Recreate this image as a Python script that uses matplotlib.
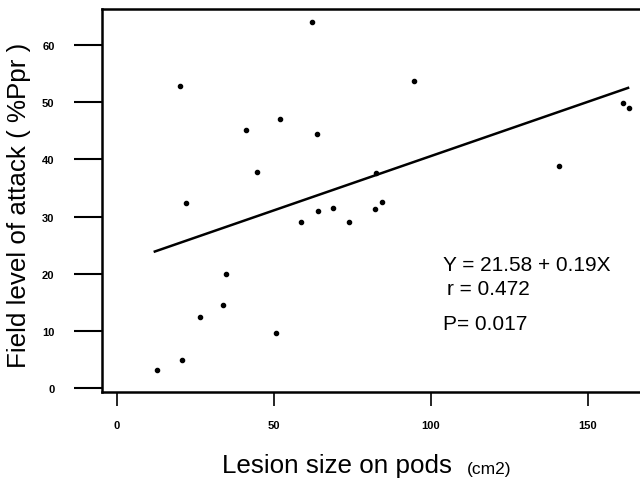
import matplotlib
matplotlib.use("Agg")
import matplotlib.pyplot as plt
import numpy as np

plt.rcParams['font.family'] = ['Liberation Sans', 'DejaVu Sans']

lesion = [12.9, 20.1, 41.1, 44.5, 22.0, 34.9, 33.9, 26.6, 20.9, 62.2, 94.7, 52.1,
          63.8, 82.5, 84.3, 82.2, 68.9, 64.1, 58.7, 73.8, 50.6, 140.9, 161.3, 163.1]
attack = [3.2, 52.8, 45.1, 37.8, 32.3, 19.9, 14.5, 12.4, 4.9, 64.0, 53.7, 47.0,
          44.4, 37.7, 32.6, 31.3, 31.5, 30.9, 29.1, 29.1, 9.7, 38.8, 49.9, 49.0]
intercept = 21.58
slope = 0.19
line_x = [12.1, 162.8]
xticks = [0, 50, 100, 150]
yticks = [0, 10, 20, 30, 40, 50, 60]

fig = plt.figure(figsize=(6.4, 4.81), dpi=100)
ax = fig.add_axes([0.159, 0.183, 0.841, 0.796])
ax.scatter(lesion, attack, s=9, color='black', zorder=3)
lx = np.array(line_x)
ax.plot(lx, intercept + slope * lx, color='black', lw=1.8)

ax.set_xlim(-4.8, 166.6)
ax.set_ylim(-0.7, 66.3)
ax.set_xticks(xticks)
ax.set_yticks(yticks)
ax.tick_params(axis='y', direction='out', length=20, width=1.5, pad=14, labelsize=8)
ax.tick_params(axis='x', direction='out', length=10, width=1.2, pad=10, labelsize=8)
for lab in ax.get_xticklabels() + ax.get_yticklabels():
    lab.set_fontweight('bold')
for s in ['left', 'bottom', 'top']:
    ax.spines[s].set_linewidth(1.8)
ax.spines['right'].set_visible(False)

ax.text(103.8, 20.6, 'Y = 21.58 + 0.19X', fontsize=15, va='baseline')
ax.text(105.1, 16.4, 'r = 0.472', fontsize=15, va='baseline')
ax.text(103.8, 10.3, 'P= 0.017', fontsize=15, va='baseline')

fig.text(0.03, 0.572, 'Field level of attack ( %Ppr )', rotation=90,
         fontsize=18.7, ha='center', va='center')
fig.text(222 / 640, 1 - 473 / 481, 'Lesion size on pods', fontsize=18.7,
         ha='left', va='baseline')
fig.text(467 / 640, 1 - 474 / 481, '(cm2)', fontsize=12.5, ha='left', va='baseline')

fig.savefig('out.png', dpi=100)
